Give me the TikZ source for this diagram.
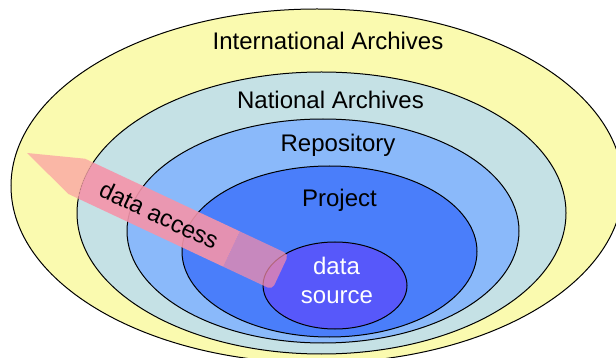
\documentclass[tikz,border=0pt]{standalone}
\usepackage{fontspec}
\setmainfont{Liberation Sans}
\definecolor{intl}{RGB}{250,250,175}
\definecolor{natl}{RGB}{197,225,229}
\definecolor{repo}{RGB}{138,185,250}
\definecolor{proj}{RGB}{74,126,250}
\definecolor{dsrc}{RGB}{87,88,250}
\definecolor{arrsal}{RGB}{250,176,166}
\definecolor{arrpink}{RGB}{245,148,170}
\definecolor{arrend}{RGB}{248,140,168}
\tikzset{
  ring/.style={draw=black, line width=1pt},
  lbl/.style={font=\fontsize{24}{28}\selectfont, anchor=base, inner sep=0pt},
}
\begin{document}
\begin{tikzpicture}[x=1pt, y=-1pt]
\useasboundingbox (0,0) rectangle (616,358);
\clip (0,0) rectangle (616,358);
% nested rings
\draw[ring, fill=intl] (317,186) ellipse [x radius=306pt, y radius=177pt];
\draw[ring, fill=natl] (321.5,213) ellipse [x radius=244.5pt, y radius=141pt];
\draw[ring, fill=repo] (323,231) ellipse [x radius=196pt, y radius=112pt];
\draw[ring, fill=proj] (329.5,251.5) ellipse [x radius=147.5pt, y radius=85.5pt];
\draw[ring, fill=dsrc] (335,285.5) ellipse [x radius=72pt, y radius=43.5pt];
% arrow geometry
\begin{scope}[shift={(27,153)}, rotate=-25.15]
  \coordinate (tip) at (0,0);
  \coordinate (hu) at (55,-19.5);
  \coordinate (hl) at (55,19.5);
  \coordinate (mu) at (226,-19.5);
  \coordinate (ml) at (226,19.5);
  \coordinate (eu) at (280,-19.5);
  \coordinate (el) at (280,19.5);
  \coordinate (lblpos) at (146,0);
\end{scope}
% main part of arrow
\begin{scope}
  \clip (tip) -- (hu) -- (mu) -- (ml) -- (hl) -- cycle;
  \fill[arrpink, opacity=0.9] (321.5,213) ellipse [x radius=244.5pt, y radius=141pt];
  \fill[arrsal, opacity=0.9, even odd rule] (0,0) rectangle (616,358)
        (321.5,213) ellipse [x radius=244.5pt, y radius=141pt];
\end{scope}
% end part of arrow
\fill[arrend, opacity=0.72] (mu) [rounded corners=5pt] -- (eu) -- (el) [sharp corners] -- (ml) -- cycle;
% labels
\node[lbl] (intlLbl) at (328,50) {International Archives};
\node[lbl] (natlLbl) at (330.5,109) {National Archives};
\node[lbl] (repoLbl) at (338,152) {Repository};
\node[lbl] (projLbl) at (339.5,207) {Project};
\node[lbl, text=white] (dsrc1) at (336.5,274) {data};
\node[lbl, text=white] (dsrc2) at (337,303) {source};
\node[font=\fontsize{24}{28}\selectfont, inner sep=0pt, rotate=-25.15] (accLbl) at (lblpos) {data access};
\end{tikzpicture}
\end{document}
